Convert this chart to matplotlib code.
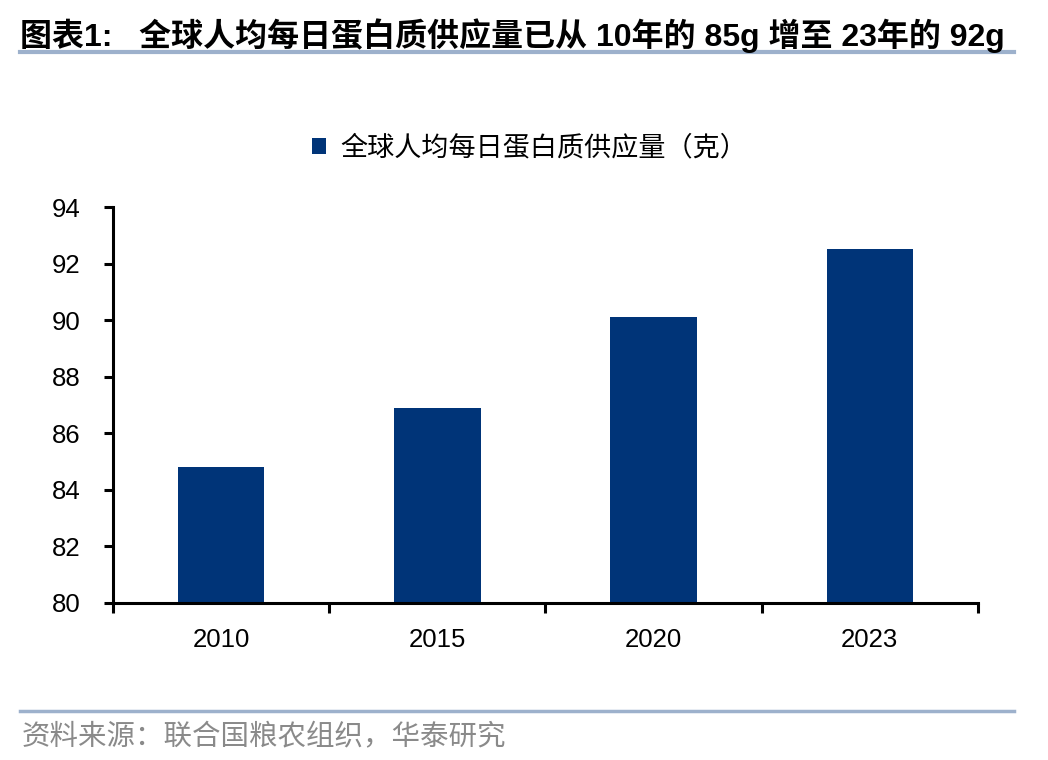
import matplotlib
matplotlib.use('Agg')
import matplotlib.pyplot as plt
import numpy as np
from matplotlib.lines import Line2D
from matplotlib.patches import Patch

plt.rcParams['font.family'] = ['Liberation Sans', 'Noto Sans CJK SC', 'DejaVu Sans']

# 数据
years = ['2010', '2015', '2020', '2023']
protein = [84.8, 86.9, 90.1, 92.5]
series_name = '全球人均每日蛋白质供应量（克）'
title = '图表1:   全球人均每日蛋白质供应量已从 10年的 85g 增至 23年的 92g'
source = '资料来源：联合国粮农组织，华泰研究'

BAR_COLOR = '#003478'
LINE_COLOR = '#9DB1CC'

fig = plt.figure(figsize=(10.48, 7.6), dpi=100)
ax = fig.add_axes([0.1078, 0.2066, 0.8254, 0.521])

x = np.arange(len(years))
ax.bar(x, protein, width=0.4, color=BAR_COLOR, zorder=2)

ax.set_ylim(80, 94)
ax.set_yticks(np.arange(80, 95, 2))
ax.set_xlim(-0.5, len(years) - 0.5)
ax.set_xticks(x)
ax.set_xticklabels(years)
ax.set_xticks(np.arange(-0.5, len(years), 1), minor=True)

for s in ['top', 'right']:
    ax.spines[s].set_visible(False)
for s in ['left', 'bottom']:
    ax.spines[s].set_linewidth(2.2)
    ax.spines[s].set_color('black')

ax.tick_params(axis='y', direction='out', length=6.5, width=2.2, labelsize=18.5, pad=17)
ax.tick_params(axis='x', which='major', length=0, labelsize=18.5, pad=18)
ax.tick_params(axis='x', which='minor', direction='out', length=7, width=2.2)

# 图例
handle = Patch(facecolor=BAR_COLOR, edgecolor='none')
fig.legend([handle], [series_name], loc='center', bbox_to_anchor=(0.505, 0.805),
           frameon=False, handlelength=0.55, handleheight=0.55,
           handletextpad=0.5, prop={'family': ['Noto Sans CJK SC'], 'size': 19.5})

# 标题与横线
fig.text(0.019, 0.953, title, fontsize=23, fontweight='bold', ha='left', va='center')
fig.add_artist(Line2D([0.019, 0.968], [0.931, 0.931], color=LINE_COLOR, linewidth=3,
                      transform=fig.transFigure))

# 来源
fig.add_artist(Line2D([0.019, 0.968], [0.064, 0.064], color=LINE_COLOR, linewidth=2.5,
                      transform=fig.transFigure))
fig.text(0.021, 0.030, source, fontsize=20.5, color='#8A8A8A', ha='left', va='center',
         family=['Noto Sans CJK SC'], fontweight='light')

fig.savefig('out.png', dpi=100, facecolor='white')
